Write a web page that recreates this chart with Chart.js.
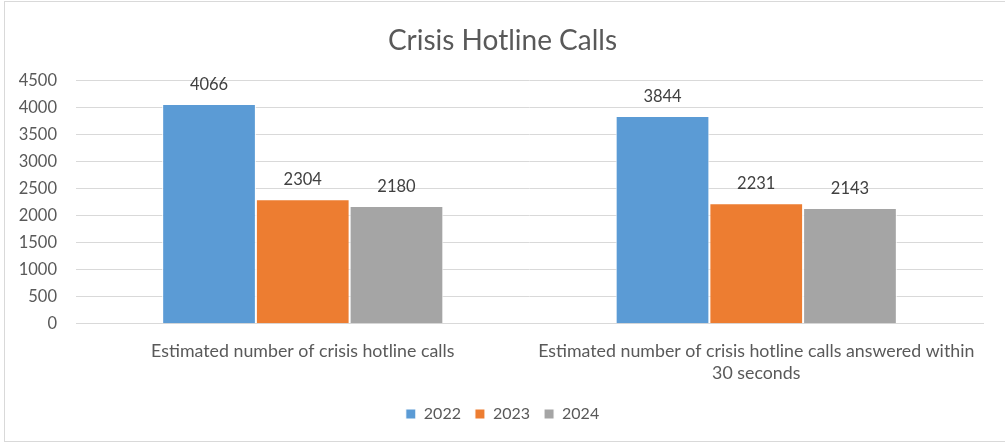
<!DOCTYPE html>
<html>
<head>
<meta charset="utf-8">
<script src="https://cdn.jsdelivr.net/npm/chart.js@4/dist/chart.umd.min.js"></script>
<style>
  html, body { margin: 0; padding: 0; background: #fff; }
  #wrap { position: relative; width: 1005px; height: 444px; }
  #frame { position: absolute; left: 4px; top: 1px; width: 1010px; height: 441px; border: 1px solid #d9d9d9; box-sizing: border-box; pointer-events: none; }
</style>
</head>
<body>
<div id="wrap">
  <canvas id="hotlineChart" width="1005" height="444"></canvas>
  <div id="frame"></div>
</div>
<script>
// chart data
const categories = [
    ['Estimated number of crisis hotline calls'],
    ['Estimated number of crisis hotline calls answered within', '30 seconds']
];
const years = ['2022', '2023', '2024'];
const calls2022 = [4066, 3844];
const calls2023 = [2304, 2231];
const calls2024 = [2180, 2143];
const yTicks = [0, 500, 1000, 1500, 2000, 2500, 3000, 3500, 4000, 4500];

const FONT = 'Lato, "Noto Sans", sans-serif';

// draws the value above each bar
const barValues = {
    id: 'barValues',
    afterDatasetsDraw(chart) {
        const ctx = chart.ctx;
        ctx.save();
        ctx.font = '16.5px ' + FONT;
        ctx.fillStyle = '#404040';
        ctx.textAlign = 'center';
        ctx.textBaseline = 'alphabetic';
        chart.data.datasets.forEach((ds, i) => {
            chart.getDatasetMeta(i).data.forEach((bar, j) => {
                ctx.fillText(ds.data[j], bar.x, bar.y - 14);
            });
        });
        ctx.restore();
    }
};

const ctx = document.getElementById('hotlineChart');
new Chart(ctx.getContext('2d'), {
    type: 'bar',
    data: {
        labels: categories,
        datasets: [
            { label: years[0], data: calls2022, backgroundColor: '#5b9bd5' },
            { label: years[1], data: calls2023, backgroundColor: '#ed7d31' },
            { label: years[2], data: calls2024, backgroundColor: '#a5a5a5' }
        ].map(d => Object.assign(d, { borderColor: '#ffffff', borderWidth: 1, categoryPercentage: 0.62, barPercentage: 1 }))
    },
    options: {
        responsive: false,
        animation: false,
        layout: { padding: { left: 0, right: 0, top: 0, bottom: 12 } },
        plugins: {
            title: {
                display: true,
                text: 'Crisis Hotline Calls',
                color: '#595959',
                font: { family: FONT, size: 28, weight: 'normal' },
                padding: { top: 24, bottom: 23 }
            },
            legend: {
                position: 'bottom',
                labels: {
                    color: '#595959',
                    font: { family: FONT, size: 16 },
                    boxWidth: 10,
                    boxHeight: 10,
                    padding: 14
                }
            },
            tooltip: { enabled: false }
        },
        scales: {
            x: {
                grid: { display: false },
                border: { color: '#d9d9d9', width: 1 },
                ticks: {
                    color: '#595959',
                    font: { family: FONT, size: 17.8, lineHeight: 1.24 },
                    maxRotation: 0,
                    autoSkip: false,
                    padding: 8
                }
            },
            y: {
                min: 0,
                max: 4500,
                afterFit(scale) { scale.width = 76; },
                afterBuildTicks(scale) { scale.ticks = yTicks.map(v => ({ value: v })); },
                grid: { color: '#d9d9d9', drawTicks: false },
                border: { display: false },
                ticks: {
                    color: '#595959',
                    font: { family: FONT, size: 16.5 },
                    padding: 19,
                    callback: v => String(v)
                }
            },
            // empty right-hand spacer so the plot ends short of the right edge
            spacer: {
                type: 'linear',
                position: 'right',
                afterFit(scale) { scale.width = 22; },
                grid: { display: false },
                border: { display: false },
                ticks: { display: false }
            }
        }
    },
    plugins: [barValues]
});
</script>
</body>
</html>
